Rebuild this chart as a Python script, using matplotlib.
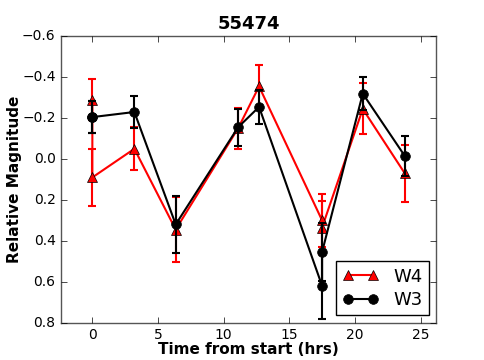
import numpy as np
import matplotlib
matplotlib.use("Agg")
import matplotlib.pyplot as plt

plt.style.use("classic")
plt.rcParams["font.family"] = ["DejaVu Sans"]
plt.rcParams["axes.unicode_minus"] = True

# tempos (hrs) e magnitudes relativas
t = [0.0, 0.0, 3.2, 6.35, 11.1, 12.7, 17.5, 17.5, 20.6, 23.8]
w4 = [-0.29, 0.09, -0.05, 0.345, -0.15, -0.355, 0.30, 0.335, -0.245, 0.07]
w4_err = [0.10, 0.14, 0.105, 0.16, 0.10, 0.105, 0.13, 0.13, 0.125, 0.14]
w3 = [-0.205, -0.205, -0.23, 0.32, -0.155, -0.255, 0.62, 0.455, -0.32, -0.015]
w3_err = [0.08, 0.08, 0.08, 0.14, 0.09, 0.085, 0.165, 0.14, 0.08, 0.10]

fig = plt.figure(figsize=(4.85, 3.6), dpi=100, facecolor="white")
ax = fig.add_axes([0.126, 0.104, 0.773, 0.795])

# barras de erro + linhas (legenda só com linha e marcador)
ax.errorbar(t, w4, yerr=w4_err, fmt="none", ecolor="red",
            elinewidth=1.5, capsize=3, capthick=1.5)
ax.plot(t, w4, color="red", marker="^", ms=7, mec="black", lw=1.5, label="W4")
ax.errorbar(t, w3, yerr=w3_err, fmt="none", ecolor="black",
            elinewidth=1.5, capsize=3, capthick=1.5)
ax.plot(t, w3, color="black", marker="o", ms=7, mec="black", lw=1.5, label="W3")

rng = max(t) - min(t)
ax.set_xlim(min(t) - 0.1 * rng, max(t) + 0.1 * rng)
ax.set_ylim(0.8, -0.6)
ax.set_xticks([0, 5, 10, 15, 20, 25])
ax.set_yticks(np.arange(-0.6, 0.81, 0.2))
ax.yaxis.set_major_formatter(matplotlib.ticker.FuncFormatter(
    lambda v, p: ("%.1f" % v).replace("-", "\u2212")))
ax.tick_params(labelsize=10)
for s in ax.spines.values():
    s.set_color("#555555")

ax.set_title("55474", fontsize=13, fontweight="bold")
ax.set_xlabel("Time from start (hrs)", fontsize=11, fontweight="bold", labelpad=0)
ax.set_ylabel("Relative Magnitude", fontsize=11, fontweight="bold")
ax.yaxis.set_label_coords(-0.105, 0.5)
ax.legend(loc="lower right", fontsize=13, numpoints=2, handlelength=2,
          borderaxespad=0.4, borderpad=0.35, labelspacing=0.3)

fig.savefig("out.png", dpi=100, facecolor="white")
